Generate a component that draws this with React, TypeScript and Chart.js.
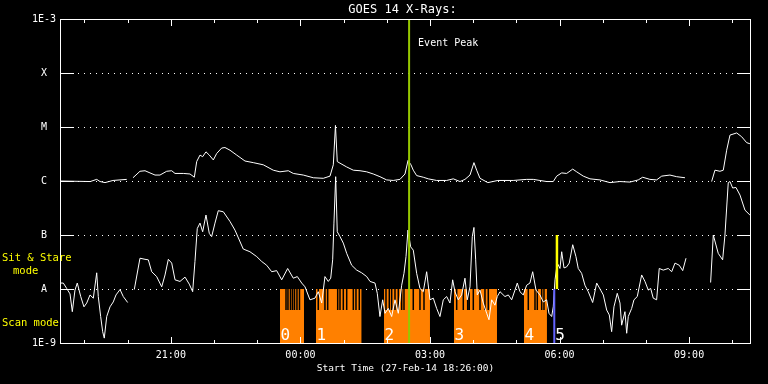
import React, { useEffect, useRef } from 'react';
import { Chart, registerables } from 'chart.js';

Chart.register(...registerables);

// ---------------- data ----------------
// time axis: minutes since the start time 27-Feb-14 18:26:00
const START_CLOCK_MIN = 18 * 60 + 26;
const SPAN_MIN = 960;

// GOES 14 long channel (1-8 A), log10 of flux in W/m^2 ; null = data gap
const longMin = [
  0, 42, 51, 55.6, 62.5, 73.6, 92.7, 97,
  101.4, 111.1, 118.1, 125, 132, 138.9, 148.2, 155.2, 159.8, 171.3,
  180.6, 186.6, 189.9, 194.5, 198.2, 202.8, 207.4, 213, 217.7, 224.6,
  229.2, 236.2, 245.5, 257, 268.5, 282.4, 296.3, 305.6, 317.2, 324.1,
  338, 351.9, 365.8, 375.1, 379.7, 382.7, 385.2, 389, 398.3, 407.5,
  416.8, 426.1, 435.2, 444.5, 453.8, 463, 472.3, 479.3, 483.5, 487.6,
  490.8, 495.5, 504.7, 511.6, 523.3, 537.2, 546.4, 555.7, 562.6, 569.6,
  575.1, 578.9, 583.5, 594.4, 608.3, 629.7, 648.3, 657.5, 676.1, 685.3,
  690, 697, 703.9, 712.3, 717.8, 727, 736.3, 750.2, 764.1, 778,
  791.8, 803.4, 809.5, 819.6, 828.9, 835.9, 847.4, 856.7, 868.3,
  885,
  905.3, 909.9, 916.9, 921.5, 926.2, 930.8, 940.1, 947, 954, 958.5,
];
const longLog = [
  -6.0, -6.01, -5.97, -6.01, -6.03, -5.99, -5.97, null,
  -5.94, -5.82, -5.81, -5.85, -5.89, -5.89, -5.82, -5.81, -5.86, -5.86,
  -5.87, -5.93, -5.64, -5.52, -5.55, -5.46, -5.52, -5.61, -5.49, -5.39,
  -5.38, -5.43, -5.52, -5.63, -5.66, -5.7, -5.8, -5.83, -5.81, -5.86,
  -5.89, -5.94, -5.95, -5.91, -5.7, -4.97, -5.64, -5.67, -5.74, -5.8,
  -5.81, -5.83, -5.87, -5.92, -5.98, -5.99, -5.97, -5.87, -5.62, -5.7,
  -5.8, -5.9, -5.93, -5.96, -5.99, -5.99, -5.96, -6.01, -5.97, -5.89,
  -5.66, -5.8, -5.95, -6.03, -5.99, -5.99, -5.97, -5.97, -6.01, -6.01,
  -5.91, -5.85, -5.86, -5.78, -5.83, -5.91, -5.96, -5.98, -6.03, -6.01,
  -6.02, -5.98, -5.93, -5.97, -5.98, -5.91, -5.89, -5.92, -5.94,
  null,
  -6.01, -5.8, -5.82, -5.8, -5.43, -5.15, -5.11, -5.18, -5.29, -5.31,
];

// GOES 14 short channel (0.5-4 A), log10 of flux in W/m^2 ; null = data gap
const shortMin = [
  1.4, 4.6, 9.3, 13.9, 17.1, 20.8, 24.0, 28.8, 33.3, 37.1,
  41.7, 46.3, 51.0, 53.2, 56.5, 59.3, 61.5, 64.9, 69.5, 74.0,
  77.8, 83.4, 87.9, 94.0,
  98,
  103.2, 111.1, 118.1, 122.7, 127.4, 134.3, 141.3, 145.9, 150.5, 155.2,
  159.8, 166.7, 173.7, 179.6, 184.3, 187.5, 190.7, 194.5, 198.2, 202.8,
  207.4, 210.7, 215.3, 219.9, 226.9, 236.2, 243.1, 254.6, 263.9, 273.3,
  280.2, 287.1, 294.1, 301.0, 308.0, 316.3, 324.1, 329.7, 335.8, 340.4,
  347.3, 354.2, 358.8, 363.6, 368.1, 372.7, 376.1, 378.8, 380.6, 383.0,
  385.2, 389.0, 393.6, 398.3, 405.2, 412.2, 419.1, 426.1, 430.7, 437.6,
  440.8, 444.5, 448.3, 451.5, 456.1, 460.8, 465.4, 470.0, 474.7, 477.9,
  480.7, 483.4, 487.2, 490.8, 495.5, 500.1, 504.7, 509.4, 514.0, 518.6,
  523.3, 527.9, 532.5, 537.2, 541.8, 545.5, 548.7, 553.3, 558.0, 562.6,
  565.8, 569.6, 572.8, 575.1, 577.5, 579.7, 583.5, 588.0, 592.8, 596.0,
  599.7, 604.3, 607.5, 611.3, 618.2, 622.8, 627.5, 632.1, 635.3, 639.0,
  643.6, 648.3, 652.9, 656.7, 661.3, 666.8, 671.4, 676.1, 679.3, 683.1,
  685.3, 687.7, 690.9, 694.6, 697.0, 700.2, 703.9, 707.5, 712.3, 716.8,
  720.0, 724.7, 729.3, 733.9, 740.0, 745.6, 751.1, 754.8, 759.5, 763.1,
  766.4, 769.6, 774.2, 778.0, 780.3, 784.9, 787.3, 789.5, 794.2, 797.4,
  802.0, 808.1, 812.7, 817.3, 820.6, 824.2, 828.9, 832.5, 838.1, 845.1,
  849.8, 854.4, 860.3, 865.1, 869.7,
  885,
  903.9, 907.6, 914.5, 920.6, 923.8, 928.4, 930.8, 934.5, 939.1, 944.7,
  951.6, 958.5,
];
const shortLog = [
  -7.89, -7.89, -7.99, -8.09, -8.42, -8.02, -7.89, -8.14, -8.33, -8.26,
  -8.11, -8.17, -7.7, -8.14, -8.51, -8.79, -8.91, -8.51, -8.33, -8.24,
  -8.11, -8.01, -8.14, -8.25,
  null,
  -8.01, -7.43, -7.45, -7.46, -7.68, -7.77, -7.96, -7.74, -7.45, -7.52,
  -7.83, -7.86, -7.78, -7.91, -8.05, -7.49, -6.88, -6.78, -6.94, -6.63,
  -6.97, -7.03, -6.78, -6.55, -6.57, -6.75, -6.91, -7.26, -7.31, -7.4,
  -7.49, -7.56, -7.68, -7.66, -7.83, -7.62, -7.8, -7.77, -7.89, -7.96,
  -8.2, -8.17, -8.05, -8.26, -7.77, -7.86, -7.8, -7.46, -6.78, -5.92,
  -6.94, -7.03, -7.15, -7.34, -7.56, -7.65, -7.7, -7.77, -7.86, -7.89,
  -8.08, -8.51, -8.2, -8.45, -8.36, -8.51, -8.2, -8.45, -7.93, -7.71,
  -7.4, -6.91, -7.22, -7.28, -7.71, -7.99, -8.05, -7.68, -8.2, -8.17,
  -8.36, -8.51, -8.2, -8.14, -8.26, -7.83, -8.05, -8.2, -8.11, -7.8,
  -8.2, -7.96, -7.03, -6.86, -7.46, -8.11, -8.02, -8.26, -8.45, -8.57,
  -8.2, -8.3, -8.14, -8.05, -8.14, -8.11, -8.2, -8.02, -7.89, -8.05,
  -8.11, -7.93, -7.89, -7.68, -8.02, -8.11, -8.24, -8.2, -8.45, -8.51,
  -8.33, -7.83, -7.52, -7.62, -7.31, -7.61, -7.59, -7.52, -7.18, -7.4,
  -7.62, -7.71, -7.93, -8.05, -8.25, -7.89, -8.02, -8.11, -8.39, -8.48,
  -8.79, -8.33, -8.08, -8.26, -8.67, -8.42, -8.82, -8.51, -8.36, -8.2,
  -8.14, -7.74, -7.86, -8.02, -7.99, -8.17, -8.2, -7.62, -7.65, -7.62,
  -7.68, -7.52, -7.56, -7.66, -7.43,
  null,
  -7.88, -7.0, -7.34, -7.46, -7.0, -6.03, -6.01, -6.13, -6.12, -6.26,
  -6.54, -6.63,
];

// scan-mode intervals (minutes since start) and their labels
const scanStart = [305.6, 355.6, 450.1, 547.3, 644.6];
const scanEnd = [339.0, 419.1, 514.0, 607.1, 676.5];
const scanNames = ['0', '1', '2', '3', '4'];
// short breaks inside the scan intervals
const scanBreakMin = [
  314.0, 316.7, 320.2, 323.0, 325.8, 329.2, 332.7,
  358.8, 368.1, 371.9, 385.8, 389.0, 393.6, 398.3, 407.5, 411.2, 415.8,
  452.9, 457.5, 460.8, 465.4, 470.0, 474.7, 477.9, 490.8, 500.1, 505.7,
  551.1, 560.3, 566.4, 568.6, 574.2, 583.5, 590.4, 595.0,
  650.6, 659.9, 663.1, 669.2, 672.4,
];
// sit & stare interval start and marker
const stareStartMin = 686.7;
const stareName = '5';
const stareMarkMin = 690.4;
// event peak
const eventPeakMin = 485;

// flux-class tick labels (log10 exponents)
const yTickExps = [-9, -8, -7, -6, -5, -4, -3];
const yTickNames = ['1E-9', 'A', 'B', 'C', 'M', 'X', '1E-3'];

// ---------------- styling ----------------
const FONT = '"DejaVu Sans Mono", "Liberation Mono", monospace';
const ORANGE = '#ff8000';
const EVENT_GREEN = '#96c800';
const BLUE = '#6464ff';
const YELLOW = '#ffff00';

const scanLevel = 1e-8; // top of the scan bars (A level)
const breakLow = Math.pow(10, -8.39);

const clockOf = (m: number) => (((START_CLOCK_MIN + m) % 1440) + 1440) % 1440;
const pad2 = (n: number) => (n < 10 ? '0' + n : '' + n);

const toPoints = (ts: number[], ls: (number | null)[]) =>
  ts.map((t, i) => ({ x: t, y: ls[i] === null || ls[i] === undefined ? null : Math.pow(10, ls[i] as number) }));

const goesPlugin = {
  id: 'goesDecor',
  beforeDatasetsDraw(chart: any) {
    const { ctx, chartArea: a, scales } = chart;
    const y = scales.y;
    ctx.save();
    ctx.fillStyle = '#ffffff';
    for (const e of yTickExps) {
      if (e === yTickExps[0] || e === yTickExps[yTickExps.length - 1]) continue;
      const py = Math.round(y.getPixelForValue(Math.pow(10, e)));
      for (let px = Math.round(a.left) + 18; px <= a.right - 18; px += 6) ctx.fillRect(px, py, 1, 1);
    }
    ctx.restore();
  },
  afterDatasetsDraw(chart: any) {
    const { ctx, chartArea: a, scales } = chart;
    const x = scales.x;
    const y = scales.y;
    const L = Math.round(a.left);
    const R = Math.round(a.right);
    const T = Math.round(a.top);
    const B = Math.round(a.bottom);
    ctx.save();
    ctx.fillStyle = '#ffffff';
    // frame
    ctx.fillRect(L, T, R - L, 1);
    ctx.fillRect(L, B, R - L, 1);
    ctx.fillRect(L, T, 1, B - T + 1);
    ctx.fillRect(R - 1, T, 1, B - T + 1);
    // y ticks
    for (const e of yTickExps) {
      if (e === yTickExps[0] || e === yTickExps[yTickExps.length - 1]) continue;
      const py = Math.round(y.getPixelForValue(Math.pow(10, e)));
      ctx.fillRect(L, py, 14, 1);
      ctx.fillRect(R - 14, py, 14, 1);
    }
    // x ticks
    for (const t of x.ticks) {
      const px = Math.round(x.getPixelForValue(t.value));
      const hour = Math.floor(clockOf(t.value) / 60);
      const len = hour % 3 === 0 ? 7 : 4;
      ctx.fillRect(px, T, 1, len);
      ctx.fillRect(px, B - len + 1, 1, len);
    }
    ctx.restore();
  },
  afterDraw(chart: any) {
    const { ctx, chartArea: a, scales } = chart;
    const x = scales.x;
    ctx.save();
    // title
    ctx.fillStyle = '#ffffff';
    ctx.font = `12px ${FONT}`;
    ctx.textAlign = 'center';
    ctx.textBaseline = 'middle';
    ctx.fillText('GOES 14 X-Rays:', (a.left + a.right) / 2 - 3, 10);
    // event peak label
    ctx.font = `10px ${FONT}`;
    ctx.textAlign = 'left';
    ctx.fillText('Event Peak', x.getPixelForValue(eventPeakMin) + 9, a.top + 24);
    // scan interval numbers
    ctx.font = `16px ${FONT}`;
    ctx.textBaseline = 'alphabetic';
    scanNames.forEach((n, i) => {
      ctx.fillText(n, x.getPixelForValue(scanStart[i]) + 0.5, a.bottom - 3.5);
    });
    ctx.fillText(stareName, x.getPixelForValue(stareStartMin) + 1, a.bottom - 3.5);
    // mode annotations
    ctx.fillStyle = YELLOW;
    ctx.font = `10.5px ${FONT}`;
    ctx.textBaseline = 'middle';
    ctx.fillText('Sit & Stare', 2, 258.5);
    ctx.fillText('mode', 13, 271.5);
    ctx.fillText('Scan mode', 2, 323.5);
    ctx.restore();
  },
};

export default function App() {
  const canvasRef = useRef<HTMLCanvasElement | null>(null);

  useEffect(() => {
    document.body.style.margin = '0';
    document.body.style.background = '#000';
    const canvas = canvasRef.current;
    if (!canvas) return;

    const lineBase = { pointRadius: 0, borderWidth: 1, tension: 0, fill: false, spanGaps: false };

    const breakPts: { x: number; y: number | null }[] = [];
    scanBreakMin.forEach((t) => {
      breakPts.push({ x: t, y: scanLevel });
      breakPts.push({ x: t, y: breakLow });
      breakPts.push({ x: t, y: null });
    });

    const blockSets = scanStart.map((s, i) => ({
      ...lineBase,
      label: 'scan ' + scanNames[i],
      data: [
        { x: s, y: scanLevel },
        { x: scanEnd[i], y: scanLevel },
      ],
      fill: 'start',
      backgroundColor: ORANGE,
      borderColor: 'rgba(0,0,0,0)',
      borderWidth: 0,
      order: 5,
    }));

    const chart = new Chart(canvas, {
      type: 'line',
      data: {
        datasets: [
          {
            ...lineBase,
            label: 'Event Peak',
            data: [
              { x: eventPeakMin, y: 1e-9 },
              { x: eventPeakMin, y: 1e-3 },
            ],
            borderColor: EVENT_GREEN,
            borderWidth: 2,
            order: 0,
          },
          {
            ...lineBase,
            label: 'stare marker',
            data: [
              { x: stareMarkMin, y: 1e-8 },
              { x: stareMarkMin, y: 1e-7 },
            ],
            borderColor: YELLOW,
            borderWidth: 2.5,
            order: 1,
          },
          {
            ...lineBase,
            label: 'stare start',
            data: [
              { x: stareStartMin, y: 1e-9 },
              { x: stareStartMin, y: 1e-8 },
            ],
            borderColor: BLUE,
            borderWidth: 2,
            order: 1,
          },
          {
            ...lineBase,
            label: '1-8 A',
            data: toPoints(longMin, longLog),
            borderColor: '#ffffff',
            order: 2,
          },
          {
            ...lineBase,
            label: '0.5-4 A',
            data: toPoints(shortMin, shortLog),
            borderColor: '#ffffff',
            order: 2,
          },
          {
            ...lineBase,
            label: 'scan breaks',
            data: breakPts,
            borderColor: '#000000',
            borderWidth: 1.5,
            order: 3,
          },
          ...blockSets,
        ] as any,
      },
      options: {
        animation: false,
        responsive: false,
        devicePixelRatio: 1,
        events: [],
        layout: { padding: { top: 19, right: 17, left: 0, bottom: 0 } },
        plugins: {
          legend: { display: false },
          tooltip: { enabled: false },
          title: { display: false },
        },
        elements: { point: { radius: 0 }, line: { tension: 0 } },
        scales: {
          x: {
            type: 'linear',
            min: 0,
            max: SPAN_MIN,
            grid: { display: false, drawTicks: false },
            border: { display: false },
            afterBuildTicks: (scale: any) => {
              const ticks: { value: number }[] = [];
              for (let m = 60 - (START_CLOCK_MIN % 60); m <= SPAN_MIN; m += 60) ticks.push({ value: m });
              scale.ticks = ticks;
            },
            afterFit: (scale: any) => {
              scale.height = 41;
            },
            ticks: {
              color: '#ffffff',
              font: { family: FONT, size: 10 },
              padding: 6,
              autoSkip: false,
              maxRotation: 0,
              callback: (v: any) => {
                const c = clockOf(Number(v));
                const h = Math.floor(c / 60);
                return h % 3 === 0 ? pad2(h) + ':00' : '';
              },
            },
            title: {
              display: true,
              text: 'Start Time (27-Feb-14 18:26:00)',
              color: '#ffffff',
              font: { family: FONT, size: 9.5 },
              padding: { top: 0, bottom: 10 },
            },
          },
          y: {
            type: 'logarithmic',
            min: 1e-9,
            max: 1e-3,
            grid: { display: false, drawTicks: false },
            border: { display: false },
            afterBuildTicks: (scale: any) => {
              scale.ticks = yTickExps.map((e) => ({ value: Math.pow(10, e) }));
            },
            afterFit: (scale: any) => {
              scale.width = 60;
            },
            ticks: {
              color: '#ffffff',
              font: { family: FONT, size: 10 },
              padding: 4,
              crossAlign: 'center',
              autoSkip: false,
              callback: (v: any) => {
                const e = Math.round(Math.log10(Number(v)));
                const i = yTickExps.indexOf(e);
                return i >= 0 ? yTickNames[i] : '';
              },
            },
          },
        },
      } as any,
      plugins: [goesPlugin],
    });

    return () => chart.destroy();
  }, []);

  return (
    <div style={{ position: 'fixed', left: 0, top: 0, width: 768, height: 384, background: '#000' }}>
      <canvas ref={canvasRef} width={768} height={384} style={{ display: 'block' }} />
    </div>
  );
}
